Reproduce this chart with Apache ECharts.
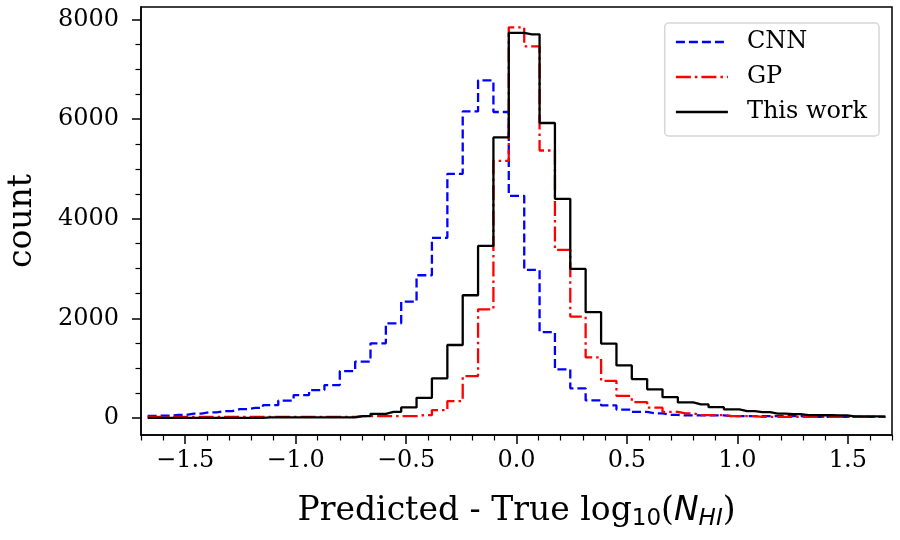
<!DOCTYPE html>
<html lang="en">
<head>
    <meta charset="UTF-8">
    <title>Column density residuals</title>
    <script src="https://cdn.jsdelivr.net/npm/echarts@6/dist/echarts.min.js"></script>
    <style>
        html, body {margin: 0; padding: 0; background: #fff}
        #chart {width: 900px; height: 540px}
    </style>
</head>
<body>
<div id="chart"></div>
<script>
    // bin centres of the histogram (Predicted - True log10 N_HI)
    const binCenters = [-1.670, -1.600, -1.531, -1.461, -1.392, -1.322, -1.253, -1.183, -1.113, -1.044,
        -0.974, -0.904, -0.835, -0.765, -0.696, -0.626, -0.557, -0.487, -0.418, -0.348, -0.278, -0.209,
        -0.139, -0.070, 0.000, 0.070, 0.139, 0.209, 0.278, 0.348, 0.418, 0.487, 0.557, 0.626, 0.696,
        0.765, 0.835, 0.904, 0.974, 1.044, 1.113, 1.183, 1.253, 1.322, 1.392, 1.461, 1.531, 1.600, 1.670]

    // counts per bin
    const cnnCounts = [40, 45, 60, 85, 110, 135, 175, 201, 255, 346, 457, 557, 658, 940, 1130, 1497, 1899,
        2334, 2865, 3616, 4903, 6157, 6781, 6145, 4461, 2972, 1724, 974, 592, 350, 250, 165, 121, 89, 60,
        48, 48, 48, 34, 34, 34, 34, 34, 20, 20, 20, 20, 20, 20]
    const gpCounts = [20, 20, 20, 20, 20, 20, 20, 20, 20, 20, 20, 20, 20, 20, 34, 34, 34, 34, 54, 155, 336,
        839, 2181, 5165, 7847, 7465, 5372, 3374, 2032, 1215, 742, 441, 316, 205, 121, 89, 54, 54, 34, 34,
        20, 20, 20, 20, 20, 20, 20, 20, 20]
    const thisWorkCounts = [0, 0, 0, 0, 0, 0, 0, 0, 8, 8, 8, 8, 8, 8, 34, 80, 120, 210, 402, 793, 1463, 2463,
        3455, 5634, 7734, 7706, 5924, 4400, 2992, 2123, 1493, 1054, 779, 573, 416, 310, 270, 215, 169, 135,
        115, 85, 75, 55, 52, 50, 30, 28, 25]

    // ticks
    const xMajorTicks = [-1.5, -1.0, -0.5, 0.0, 0.5, 1.0, 1.5]
    const xMinorTicks = [-1.7, -1.6, -1.4, -1.3, -1.2, -1.1, -0.9, -0.8, -0.7, -0.6, -0.4, -0.3, -0.2, -0.1,
        0.1, 0.2, 0.3, 0.4, 0.6, 0.7, 0.8, 0.9, 1.1, 1.2, 1.3, 1.4, 1.6, 1.7]
    const yMajorTicks = [0, 2000, 4000, 6000, 8000]
    const yMinorTicks = [500, 1000, 1500, 2500, 3000, 3500, 4500, 5000, 5500, 6500, 7000, 7500]

    const serif = 'DejaVu Serif'
    const sans = 'DejaVu Sans'

    function toPoints(counts) {
        return binCenters.map((x, i) => [x, counts[i]])
    }

    function fmtX(v) {
        let s = Math.abs(v).toFixed(1)
        return v < 0 ? '\u2212' + s : s
    }

    let myChart = echarts.init(document.getElementById('chart'), null, {renderer: 'canvas'})

    let axisLine = {show: true, onZero: false, lineStyle: {color: '#000', width: 1.5}}
    let hiddenLine = {show: false, onZero: false}

    let option = {
        animation: false,
        backgroundColor: '#fff',
        grid: {
            left: 141, right: 8, top: 7, bottom: 105,
            show: true, borderColor: '#000', borderWidth: 1.5,
            containLabel: false, outerBoundsMode: 'none'
        },
        legend: {
            orient: 'vertical',
            right: 21,
            top: 23,
            data: ['CNN', 'GP', 'This work'],
            itemWidth: 52,
            itemHeight: 14,
            itemGap: 11,
            padding: [7, 12, 12, 10],
            backgroundColor: '#fff',
            borderColor: '#d6d6d6',
            borderWidth: 1.5,
            borderRadius: 4,
            itemStyle: {opacity: 0, color: 'rgba(0,0,0,0)', borderWidth: 0},
            lineStyle: {width: 2.4},
            textStyle: {fontFamily: serif, fontSize: 24, color: '#000', lineHeight: 24, padding: [0, 0, 0, 14]}
        },
        xAxis: [
            {
                type: 'value',
                min: -1.7,
                max: 1.7,
                name: '{t|Predicted - True log}{s|10}{t|(}{i|N}{si|HI}{t|)}',
                nameLocation: 'middle',
                nameGap: 56,
                nameTextStyle: {
                    rich: {
                        t: {fontFamily: serif, fontSize: 33, lineHeight: 40, verticalAlign: 'middle', color: '#000'},
                        s: {fontFamily: sans, fontSize: 23, lineHeight: 24, verticalAlign: 'bottom', color: '#000'},
                        i: {fontFamily: sans, fontStyle: 'italic', fontSize: 33, lineHeight: 40, verticalAlign: 'middle', color: '#000'},
                        si: {fontFamily: sans, fontStyle: 'italic', fontSize: 23, lineHeight: 24, verticalAlign: 'bottom', color: '#000'}
                    }
                },
                axisLine: axisLine,
                axisTick: {show: true, customValues: xMajorTicks, length: 9, lineStyle: {color: '#000', width: 1.5}},
                axisLabel: {
                    customValues: xMajorTicks, margin: 14, fontFamily: serif, fontSize: 24, color: '#000',
                    formatter: fmtX
                },
                splitLine: {show: false}
            },
            {
                type: 'value',
                min: -1.7,
                max: 1.7,
                position: 'bottom',
                axisLine: hiddenLine,
                axisTick: {show: true, customValues: xMinorTicks, length: 5.5, lineStyle: {color: '#000', width: 1.2}},
                axisLabel: {show: false},
                splitLine: {show: false}
            }
        ],
        yAxis: [
            {
                type: 'value',
                min: -345,
                max: 8255,
                name: 'count',
                nameLocation: 'middle',
                nameGap: 102,
                nameTextStyle: {fontFamily: serif, fontSize: 33, color: '#000'},
                axisLine: axisLine,
                axisTick: {show: true, customValues: yMajorTicks, length: 9, lineStyle: {color: '#000', width: 1.5}},
                axisLabel: {
                    customValues: yMajorTicks, margin: 22, fontFamily: serif, fontSize: 24, color: '#000',
                    formatter: v => String(v)
                },
                splitLine: {show: false}
            },
            {
                type: 'value',
                min: -345,
                max: 8255,
                position: 'left',
                axisLine: hiddenLine,
                axisTick: {show: true, customValues: yMinorTicks, length: 5.5, lineStyle: {color: '#000', width: 1.2}},
                axisLabel: {show: false},
                splitLine: {show: false}
            }
        ],
        series: [
            {
                name: 'CNN',
                type: 'line',
                step: 'middle',
                showSymbol: false,
                symbol: 'none',
                color: '#0000ff',
                lineStyle: {width: 2.3, type: [9, 4]},
                data: toPoints(cnnCounts)
            },
            {
                name: 'GP',
                type: 'line',
                step: 'middle',
                showSymbol: false,
                symbol: 'none',
                color: '#ff0000',
                lineStyle: {width: 2.3, type: [15, 4, 2.5, 4]},
                data: toPoints(gpCounts)
            },
            {
                name: 'This work',
                type: 'line',
                step: 'middle',
                showSymbol: false,
                symbol: 'none',
                color: '#000000',
                lineStyle: {width: 2.3},
                data: toPoints(thisWorkCounts)
            }
        ]
    }

    myChart.setOption(option)
</script>
</body>
</html>
